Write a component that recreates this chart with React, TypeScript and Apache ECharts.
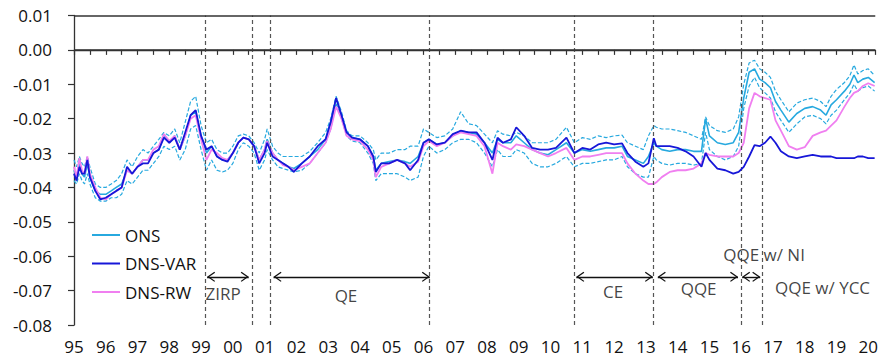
import { useEffect, useRef } from "react";
import * as echarts from "echarts";

// Monthly-ish observation dates (decimal years)
const dates = [
  1995.0, 1995.08, 1995.17, 1995.25, 1995.33, 1995.42, 1995.5, 1995.67, 1995.83,
  1996.0, 1996.17, 1996.33, 1996.5, 1996.67, 1996.83,
  1997.0, 1997.17, 1997.33, 1997.5, 1997.67, 1997.83,
  1998.0, 1998.17, 1998.33, 1998.5, 1998.67, 1998.83,
  1999.0, 1999.17, 1999.33, 1999.5, 1999.67, 1999.83,
  2000.0, 2000.17, 2000.33, 2000.5, 2000.67, 2000.83,
  2001.0, 2001.08, 2001.25, 2001.42, 2001.58, 2001.75, 2001.92,
  2002.17, 2002.42, 2002.67, 2002.92,
  2003.08, 2003.25, 2003.42, 2003.58, 2003.75,
  2004.0, 2004.25, 2004.42, 2004.5, 2004.67, 2004.92,
  2005.17, 2005.42, 2005.58, 2005.83,
  2006.0, 2006.17, 2006.42, 2006.67, 2006.92,
  2007.17, 2007.42, 2007.67, 2007.92,
  2008.17, 2008.33, 2008.5, 2008.75, 2008.92,
  2009.17, 2009.42, 2009.67, 2009.92,
  2010.17, 2010.5, 2010.75,
  2011.0, 2011.25, 2011.5, 2011.75,
  2012.0, 2012.25, 2012.42, 2012.67, 2012.92,
  2013.08, 2013.25, 2013.33, 2013.5, 2013.75,
  2014.0, 2014.25, 2014.5, 2014.75, 2014.88,
  2015.0, 2015.25, 2015.5, 2015.75, 2015.92,
  2016.08, 2016.25, 2016.42, 2016.58, 2016.75, 2016.92,
  2017.08, 2017.25, 2017.5, 2017.75,
  2018.0, 2018.25, 2018.5, 2018.67, 2018.83,
  2019.0, 2019.25, 2019.42, 2019.55, 2019.67, 2019.83,
  2020.0, 2020.2,
];

const ons = [
  -0.035, -0.037, -0.033, -0.036, -0.037, -0.033, -0.037, -0.041, -0.042,
  -0.042, -0.041, -0.04, -0.039, -0.035, -0.036,
  -0.034, -0.032, -0.032, -0.03, -0.029, -0.025,
  -0.027, -0.025, -0.029, -0.025, -0.019, -0.018,
  -0.025, -0.03, -0.028, -0.031, -0.032, -0.032,
  -0.03, -0.027, -0.0255, -0.026, -0.028, -0.032,
  -0.029, -0.026, -0.03, -0.032, -0.033, -0.034, -0.0345,
  -0.033, -0.031, -0.029, -0.026,
  -0.021, -0.014, -0.019, -0.024, -0.0255,
  -0.026, -0.028, -0.031, -0.035, -0.033, -0.0325,
  -0.032, -0.0325, -0.033, -0.031,
  -0.027, -0.026, -0.0275, -0.027, -0.025,
  -0.0235, -0.024, -0.0245, -0.027,
  -0.03, -0.026, -0.027, -0.027, -0.025,
  -0.027, -0.029, -0.03, -0.0305,
  -0.029, -0.027, -0.03,
  -0.029, -0.0295, -0.029, -0.0285,
  -0.0285, -0.028, -0.031, -0.032, -0.033,
  -0.031, -0.027, -0.028, -0.029, -0.0295,
  -0.029, -0.029, -0.0295, -0.0295, -0.02,
  -0.025, -0.027, -0.0275, -0.027, -0.024,
  -0.014, -0.0065, -0.0055, -0.0085, -0.0095, -0.011,
  -0.015, -0.0175, -0.021, -0.0185,
  -0.017, -0.0165, -0.0175, -0.019, -0.016,
  -0.0145, -0.012, -0.01, -0.0073, -0.0095, -0.0085,
  -0.008, -0.0095,
];

const onsUpper = [
  -0.032, -0.034, -0.031, -0.033, -0.034, -0.031, -0.034, -0.039, -0.04,
  -0.04, -0.039, -0.038, -0.036, -0.032, -0.034,
  -0.031, -0.029, -0.03, -0.028, -0.026, -0.024,
  -0.025, -0.023, -0.027, -0.021, -0.015, -0.0135,
  -0.022, -0.027, -0.026, -0.029, -0.03, -0.03,
  -0.028, -0.025, -0.0245, -0.025, -0.027, -0.03,
  -0.026, -0.023, -0.028, -0.03, -0.031, -0.031, -0.031,
  -0.031, -0.0295, -0.027, -0.024,
  -0.02, -0.0135, -0.018, -0.0235, -0.025,
  -0.025, -0.027, -0.029, -0.032, -0.03, -0.03,
  -0.029, -0.029, -0.028, -0.028,
  -0.023, -0.024, -0.0255, -0.025, -0.023,
  -0.018, -0.0215, -0.022, -0.0245,
  -0.027, -0.0235, -0.0245, -0.025, -0.024,
  -0.025, -0.027, -0.027, -0.027,
  -0.026, -0.0225, -0.027,
  -0.0255, -0.026, -0.025, -0.0255,
  -0.025, -0.0248, -0.027, -0.028, -0.029,
  -0.025, -0.022, -0.0225, -0.023, -0.023,
  -0.0235, -0.024, -0.025, -0.026, -0.0195,
  -0.022, -0.0235, -0.024, -0.023, -0.0195,
  -0.01, -0.0038, -0.003, -0.0055, -0.0065, -0.008,
  -0.012, -0.0145, -0.018, -0.0155,
  -0.0145, -0.014, -0.015, -0.0165, -0.0135,
  -0.0115, -0.0095, -0.0075, -0.0044, -0.007, -0.006,
  -0.0055, -0.0075,
];

const onsLower = [
  -0.038, -0.039, -0.036, -0.038, -0.039, -0.036, -0.039, -0.043, -0.044,
  -0.044, -0.043, -0.043, -0.042, -0.038, -0.039,
  -0.037, -0.035, -0.035, -0.033, -0.031, -0.028,
  -0.029, -0.028, -0.032, -0.029, -0.023, -0.022,
  -0.029, -0.035, -0.032, -0.035, -0.0355, -0.035,
  -0.033, -0.029, -0.027, -0.028, -0.03, -0.035,
  -0.032, -0.029, -0.032, -0.034, -0.0345, -0.035, -0.0355,
  -0.035, -0.033, -0.03, -0.027,
  -0.023, -0.0155, -0.02, -0.025, -0.0265,
  -0.027, -0.03, -0.033, -0.038, -0.036, -0.036,
  -0.036, -0.037, -0.038, -0.037,
  -0.031, -0.028, -0.03, -0.029, -0.027,
  -0.026, -0.026, -0.027, -0.03,
  -0.034, -0.029, -0.031, -0.031, -0.029,
  -0.03, -0.033, -0.034, -0.034,
  -0.033, -0.031, -0.034,
  -0.033, -0.033, -0.0325, -0.032,
  -0.032, -0.031, -0.034, -0.036, -0.037,
  -0.037, -0.031, -0.032, -0.033, -0.0335,
  -0.033, -0.033, -0.0335, -0.033, -0.024,
  -0.029, -0.031, -0.032, -0.031, -0.028,
  -0.017, -0.0105, -0.008, -0.011, -0.0125, -0.014,
  -0.018, -0.0205, -0.024, -0.0215,
  -0.0195, -0.019, -0.02, -0.0215, -0.019,
  -0.0175, -0.0145, -0.0125, -0.01, -0.012, -0.011,
  -0.0105, -0.012,
];

const dnsVar = [
  -0.036, -0.038, -0.034, -0.036, -0.036, -0.032, -0.037, -0.041, -0.0435,
  -0.043, -0.042, -0.041, -0.04, -0.034, -0.036,
  -0.034, -0.033, -0.033, -0.03, -0.029, -0.0255,
  -0.027, -0.0255, -0.029, -0.024, -0.019, -0.0175,
  -0.025, -0.029, -0.028, -0.031, -0.032, -0.0325,
  -0.03, -0.027, -0.0255, -0.026, -0.028, -0.033,
  -0.03, -0.027, -0.031, -0.032, -0.033, -0.034, -0.0355,
  -0.033, -0.031, -0.028, -0.026,
  -0.021, -0.014, -0.019, -0.024, -0.0255,
  -0.026, -0.028, -0.031, -0.0355, -0.033, -0.033,
  -0.032, -0.033, -0.035, -0.032,
  -0.027, -0.026, -0.0275, -0.027, -0.0245,
  -0.0235, -0.024, -0.024, -0.027,
  -0.032, -0.0255, -0.027, -0.026, -0.0225,
  -0.025, -0.0285, -0.029, -0.029,
  -0.0285, -0.0255, -0.03,
  -0.0285, -0.029, -0.0275, -0.027,
  -0.0275, -0.0272, -0.03, -0.0325, -0.034,
  -0.033, -0.0257, -0.028, -0.028, -0.028,
  -0.0285, -0.0295, -0.031, -0.034, -0.03,
  -0.032, -0.0345, -0.035, -0.036, -0.0355,
  -0.034, -0.031, -0.0277, -0.028, -0.027, -0.0252,
  -0.027, -0.0295, -0.031, -0.0315,
  -0.031, -0.0305, -0.031, -0.031, -0.031,
  -0.0315, -0.0315, -0.0315, -0.0315, -0.031, -0.031,
  -0.0315, -0.0315,
];

const dnsRw = [
  -0.034, -0.037, -0.0315, -0.035, -0.036, -0.031, -0.036, -0.04, -0.043,
  -0.0435, -0.042, -0.041, -0.04, -0.035, -0.036,
  -0.034, -0.032, -0.032, -0.029, -0.028, -0.0245,
  -0.0265, -0.025, -0.029, -0.025, -0.02, -0.019,
  -0.026, -0.032, -0.029, -0.03, -0.0315, -0.032,
  -0.03, -0.027, -0.0255, -0.026, -0.028, -0.032,
  -0.029, -0.0265, -0.03, -0.032, -0.0335, -0.034, -0.035,
  -0.034, -0.033, -0.03, -0.027,
  -0.023, -0.0165, -0.02, -0.025, -0.026,
  -0.0265, -0.029, -0.032, -0.037, -0.034, -0.033,
  -0.032, -0.033, -0.034, -0.0325,
  -0.028, -0.0265, -0.028, -0.027, -0.025,
  -0.024, -0.0245, -0.025, -0.028,
  -0.036, -0.027, -0.028, -0.029, -0.0275,
  -0.028, -0.029, -0.03, -0.031,
  -0.03, -0.0285, -0.032,
  -0.031, -0.031, -0.0305, -0.03,
  -0.03, -0.03, -0.033, -0.036, -0.038,
  -0.039, -0.039, -0.0385, -0.037, -0.0355,
  -0.035, -0.035, -0.0345, -0.033, -0.03,
  -0.0305, -0.031, -0.031, -0.031, -0.03,
  -0.027, -0.017, -0.0125, -0.0135, -0.014, -0.0145,
  -0.0205, -0.0235, -0.028, -0.029,
  -0.0283, -0.025, -0.024, -0.0235, -0.022,
  -0.0205, -0.0165, -0.014, -0.0125, -0.012, -0.0105,
  -0.0097, -0.0105,
];

// Policy regime boundaries (vertical dashed lines)
const regimeBoundaries = [1999.12, 2000.62, 2001.18, 2006.19, 2010.74, 2013.24, 2015.99, 2016.65];

// Regime arrows and their captions
const regimeNames = ["ZIRP", "QE", "CE", "QQE", "QQE w/ NI", "QQE w/ YCC"];
const regimeFrom = [1999.19, 2001.28, 2010.81, 2013.375, 2016.03, 2016.69];
const regimeTo = [2000.5, 2006.2, 2013.22, 2015.9, 2016.6, 2020.6];
const regimeCaptionX = [1999.69, 2003.56, 2011.97, 2014.66, 2016.72, 2018.56];
const regimeCaptionY = [-0.0707, -0.0713, -0.0704, -0.0695, -0.0594, -0.0692];
const arrowLevel = -0.066;

const FONT = "'Open Sans', 'Liberation Sans', sans-serif";
const ONS_COLOR = "#27a9df";
const VAR_COLOR = "#1717d8";
const RW_COLOR = "#f07ff0";

// Open chevron, tip at the centre of its box so it sits on the line end
const CHEVRON =
  "path://M5,0 L5.02,0 L5,0.02 Z M5,8 L10,15.2 L9.1,16 L5,10.2 L0.9,16 L0,15.2 Z";

const pairs = (vals: number[]) => dates.map((d, i) => [d, vals[i]]);

export default function App() {
  const ref = useRef<HTMLDivElement>(null);

  useEffect(() => {
    if (!ref.current) return;
    const chart = echarts.init(ref.current, undefined, { renderer: "svg" });

    const boundaryLines = regimeBoundaries.map((x) => ({
      xAxis: x,
      lineStyle: { color: "#555", width: 1.2, type: [4, 3] },
    }));
    const frameLines = [0, 0.01].map((y) => ({
      yAxis: y,
      lineStyle: { color: "#333", width: 1.5, type: "solid" },
    }));

    const arrows = regimeNames.map((_, i) => [
      { coord: [regimeFrom[i], arrowLevel], symbol: CHEVRON },
      {
        coord: [regimeTo[i], arrowLevel],
        symbol: i === regimeNames.length - 1 ? "none" : CHEVRON,
      },
    ]);

    chart.setOption({
      animation: false,
      backgroundColor: "#fff",
      grid: { left: 74, top: 15.5, right: 0, bottom: 37, containLabel: false },
      legend: {
        data: ["ONS", "DNS-VAR", "DNS-RW"],
        orient: "vertical",
        left: 87,
        top: 221,
        icon: "rect",
        itemWidth: 28,
        itemHeight: 2,
        itemGap: 10.5,
        textStyle: { fontFamily: FONT, fontSize: 17, color: "#111", lineHeight: 18 },
      },
      xAxis: {
        type: "value",
        min: 1995,
        max: 2020.22,
        interval: 0.5,
        axisLine: { show: true, lineStyle: { color: "#333", width: 1.3 } },
        axisTick: { show: true, inside: false, length: 5, lineStyle: { color: "#333", width: 1.2 } },
        axisLabel: {
          fontFamily: FONT,
          fontSize: 17,
          color: "#111",
          margin: 13,
          formatter: (v: number) => {
            const r = Math.round(v);
            if (Math.abs(v - r) > 1e-6) return "";
            return String(r % 100).padStart(2, "0");
          },
        },
        splitLine: { show: false },
      },
      yAxis: {
        type: "value",
        min: -0.08,
        max: 0.01,
        interval: 0.01,
        axisLine: { show: true, lineStyle: { color: "#333", width: 1.3 } },
        axisTick: { show: true, inside: false, length: 6, lineStyle: { color: "#333", width: 1.2 } },
        axisLabel: {
          fontFamily: FONT,
          fontSize: 17,
          color: "#111",
          margin: 22,
          formatter: (v: number) => (Math.abs(v) < 1e-9 ? "0.00" : v.toFixed(2)),
        },
        splitLine: { show: false },
      },
      series: [
        {
          name: "ONS upper",
          type: "line",
          data: pairs(onsUpper),
          symbol: "none",
          lineStyle: { color: ONS_COLOR, width: 1.2, type: [4, 2] },
          itemStyle: { color: ONS_COLOR },
          silent: true,
          z: 2,
          markLine: {
            silent: true,
            symbol: ["none", "none"],
            label: { show: false },
            emphasis: { disabled: true },
            data: [...boundaryLines, ...frameLines],
          },
        },
        {
          name: "ONS lower",
          type: "line",
          data: pairs(onsLower),
          symbol: "none",
          lineStyle: { color: ONS_COLOR, width: 1.2, type: [4, 2] },
          itemStyle: { color: ONS_COLOR },
          silent: true,
          z: 2,
          markLine: {
            silent: true,
            symbol: [CHEVRON, CHEVRON],
            symbolSize: [10, 16],
            label: { show: false },
            emphasis: { disabled: true },
            lineStyle: { color: "#111", width: 1.4, type: "solid" },
            itemStyle: { color: "#111" },
            data: arrows,
          },
        },
        {
          name: "ONS",
          type: "line",
          data: pairs(ons),
          symbol: "none",
          lineStyle: { color: ONS_COLOR, width: 1.6 },
          itemStyle: { color: ONS_COLOR },
          z: 3,
        },
        {
          name: "DNS-RW",
          type: "line",
          data: pairs(dnsRw),
          symbol: "none",
          lineStyle: { color: RW_COLOR, width: 1.8 },
          itemStyle: { color: RW_COLOR },
          z: 4,
        },
        {
          name: "DNS-VAR",
          type: "line",
          data: pairs(dnsVar),
          symbol: "none",
          lineStyle: { color: VAR_COLOR, width: 1.8 },
          itemStyle: { color: VAR_COLOR },
          z: 5,
        },
        {
          name: "regimes",
          type: "scatter",
          symbolSize: 0,
          silent: true,
          clip: false,
          data: regimeNames.map((n, i) => ({
            name: n,
            value: [regimeCaptionX[i], regimeCaptionY[i]],
          })),
          label: {
            show: true,
            position: "inside",
            formatter: "{b}",
            fontFamily: FONT,
            fontSize: 17,
            color: "#111",
          },
          z: 6,
        },
      ],
    });

    return () => chart.dispose();
  }, []);

  return (
    <div
      ref={ref}
      style={{ position: "absolute", left: 0, top: 0, width: 881, height: 362 }}
    />
  );
}
